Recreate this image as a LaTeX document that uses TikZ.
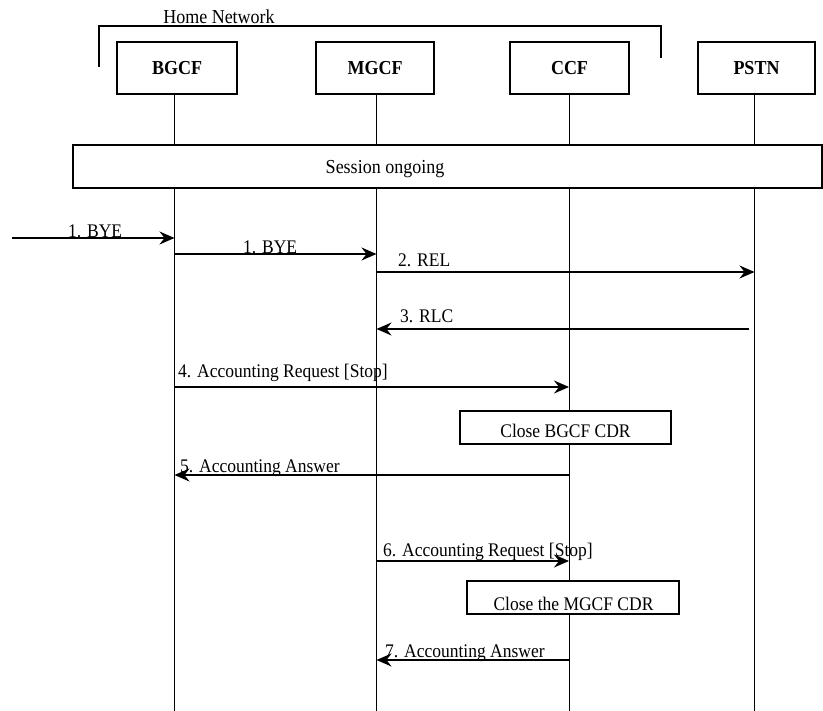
\documentclass[tikz,border=0pt]{standalone}
\usepackage{fontspec}
\setmainfont{Liberation Serif}
\usetikzlibrary{arrows.meta}
\newcommand\stx[1]{\scalebox{1}[1.1]{#1}}
\begin{document}
\begin{tikzpicture}[x=1pt,y=-1pt,
  ent/.style={draw,line width=1.4pt,inner sep=0pt,minimum height=52pt,font=\fontsize{18}{20}\selectfont\bfseries},
  life/.style={line width=0.9pt},
  msg/.style={line width=1.5pt,-{Stealth[length=15pt,width=13pt,inset=5pt]}},
  lbl/.style={font=\fontsize{17.5}{20}\selectfont,anchor=base west,inner sep=0pt},
  note/.style={draw,line width=1.4pt,fill=white,inner sep=0pt},
  ntext/.style={font=\fontsize{17.5}{20}\selectfont,anchor=base,inner sep=0pt}]
\useasboundingbox (0,0) rectangle (823,711);

% entities
\node[ent,minimum width=120pt] (bgcf) at (177,68) {\stx{BGCF}};
\node[ent,minimum width=118pt] (mgcf) at (375,68) {\stx{MGCF}};
\node[ent,minimum width=119pt] (ccf)  at (569.5,68) {\stx{CCF}};
\node[ent,minimum width=117pt] (pstn) at (756.5,68) {\stx{PSTN}};

% lifeline coordinates
\coordinate (Lb) at (174.5,94);  \coordinate (Lbe) at (174.5,711);
\coordinate (Lm) at (376.5,94);  \coordinate (Lme) at (376.5,711);
\coordinate (Lc) at (569,94);    \coordinate (Lce) at (569,711);
\coordinate (Lp) at (754.5,94);  \coordinate (Lpe) at (754.5,711);
\draw[life] (Lb) -- (Lbe);
\draw[life] (Lm) -- (Lme);
\draw[life] (Lc) -- (Lce);
\draw[life] (Lp) -- (Lpe);

% home network bracket
\coordinate (h1) at (99,67);
\coordinate (h2) at (99,26);
\coordinate (h3) at (661,26);
\coordinate (h4) at (661,58);
\draw[line width=1.4pt] (h1) -- (h2) -- (h3) -- (h4);
\node[ntext,font=\fontsize{18}{20}\selectfont] (home) at (219,24) {\stx{Home Network}};

% session ongoing
\node[note,minimum width=749pt,minimum height=43pt] (sess) at (447.5,166.5) {};
\node[ntext,font=\fontsize{18}{20}\selectfont] (sesst) at (385,174) {\stx{Session ongoing}};

% messages
\coordinate (src) at (12,238);
\draw[msg] (src) -- (Lb |- 0,238);
\node[lbl] (l1a) at (68,238) {\stx{1. BYE}};

\draw[msg] (Lb |- 0,254) -- (Lm |- 0,254);
\node[lbl] (l1b) at (243,254) {\stx{1. BYE}};

\draw[msg] (Lm |- 0,272) -- (Lp |- 0,272);
\node[lbl] (l2) at (398,267) {\stx{2. REL}};

\coordinate (rlcs) at (749,329);
\draw[msg] (rlcs) -- (Lm |- 0,329);
\node[lbl] (l3) at (400,323) {\stx{3. RLC}};

\draw[msg] (Lb |- 0,387) -- (Lc |- 0,387);
\node[lbl] (l4) at (178,378) {\stx{4. Accounting Request [Stop]}};

\node[note,minimum width=211pt,minimum height=33pt] (cb) at (565.5,427.5) {};
\node[ntext] (cbt) at (565.5,438) {\stx{Close BGCF CDR}};

\draw[msg] (Lc |- 0,475) -- (Lb |- 0,475);
\node[lbl] (l5) at (180,473) {\stx{5. Accounting Answer}};

\draw[msg] (Lm |- 0,561) -- (Lc |- 0,561);
\node[lbl] (l6) at (383,556) {\stx{6. Accounting Request [Stop]}};

\node[note,minimum width=212pt,minimum height=33pt] (cm) at (573,597.5) {};
\node[ntext] (cmt) at (573.5,610) {\stx{Close the MGCF CDR}};

\draw[msg] (Lc |- 0,660) -- (Lm |- 0,660);
\node[lbl] (l7) at (385,657) {\stx{7. Accounting Answer}};
\end{tikzpicture}
\end{document}
